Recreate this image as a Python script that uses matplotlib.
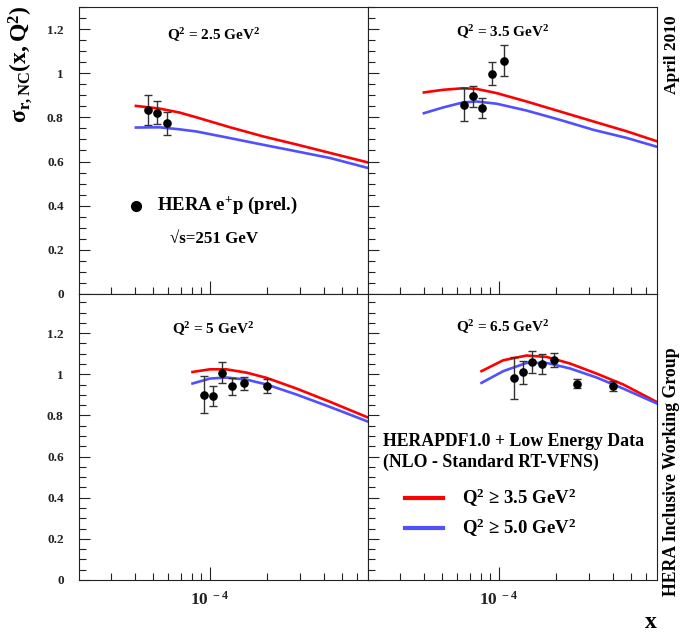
import numpy as np
import matplotlib
matplotlib.use('Agg')
import matplotlib.pyplot as plt
from matplotlib.ticker import LogLocator, FixedLocator, MultipleLocator, FuncFormatter, NullFormatter

plt.rcParams['font.family'] = ['Liberation Serif', 'DejaVu Serif']
plt.rcParams['font.weight'] = 'bold'
plt.rcParams['mathtext.fontset'] = 'custom'
plt.rcParams['mathtext.rm'] = 'Liberation Serif:bold'
plt.rcParams['mathtext.it'] = 'Liberation Serif:bold'
plt.rcParams['mathtext.bf'] = 'Liberation Serif:bold'
plt.rcParams['mathtext.default'] = 'rm'

# HERA e+p data per Q2 bin: x, sigma_r, error
q2_labels = ['2.5', '3.5', '5', '6.5']

x_25 = [4.72e-5, 5.28e-5, 5.90e-5]
s_25 = [0.833, 0.822, 0.774]
e_25 = [0.067, 0.050, 0.052]

x_35 = [6.53e-5, 7.26e-5, 8.09e-5, 9.22e-5, 1.06e-4]
s_35 = [0.857, 0.895, 0.842, 0.998, 1.057]
e_35 = [0.075, 0.048, 0.044, 0.053, 0.071]

x_5 = [9.29e-5, 1.04e-4, 1.16e-4, 1.31e-4, 1.52e-4, 2.01e-4]
s_5 = [0.901, 0.895, 1.008, 0.942, 0.956, 0.943]
e_5 = [0.090, 0.049, 0.051, 0.042, 0.032, 0.033]

x_65 = [1.205e-4, 1.345e-4, 1.496e-4, 1.69e-4, 1.96e-4, 2.58e-4, 4.0e-4]
s_65 = [0.982, 1.010, 1.060, 1.050, 1.068, 0.955, 0.943]
e_65 = [0.104, 0.056, 0.053, 0.050, 0.034, 0.021, 0.024]

# HERAPDF1.0 predictions: Q2 cut >= 3.5 (red) and >= 5.0 (blue)
xt_25 = [4.06e-5, 5.4e-5, 6.9e-5, 8.5e-5, 1.28e-4, 1.91e-4, 2.88e-4, 4.32e-4, 6.85e-4]
red_25 = [0.852, 0.840, 0.822, 0.800, 0.755, 0.714, 0.677, 0.639, 0.596]
blue_25 = [0.754, 0.755, 0.746, 0.736, 0.706, 0.676, 0.646, 0.616, 0.571]

xt_35 = [4.01e-5, 5.07e-5, 6.47e-5, 7.62e-5, 9.72e-5, 1.40e-4, 2.10e-4, 3.15e-4, 4.74e-4, 6.85e-4]
red_35 = [0.913, 0.925, 0.932, 0.929, 0.910, 0.872, 0.827, 0.782, 0.737, 0.692]
blue_35 = [0.819, 0.845, 0.868, 0.872, 0.862, 0.831, 0.789, 0.744, 0.707, 0.667]

xt_5 = [8.09e-5, 1.0e-4, 1.22e-4, 1.56e-4, 2.0e-4, 2.88e-4, 4.32e-4, 6.85e-4]
red_5 = [1.011, 1.024, 1.024, 1.008, 0.982, 0.930, 0.866, 0.790]
blue_5 = [0.955, 0.979, 0.984, 0.974, 0.950, 0.901, 0.841, 0.770]

xt_65 = [8.09e-5, 1.054e-4, 1.40e-4, 1.79e-4, 2.38e-4, 3.29e-4, 4.55e-4, 6.85e-4]
red_65 = [1.015, 1.068, 1.091, 1.084, 1.052, 1.003, 0.950, 0.865]
blue_65 = [0.958, 1.015, 1.055, 1.055, 1.028, 0.984, 0.930, 0.858]

panels = [
    (x_25, s_25, e_25, xt_25, red_25, blue_25),
    (x_35, s_35, e_35, xt_35, red_35, blue_35),
    (x_5, s_5, e_5, xt_5, red_5, blue_5),
    (x_65, s_65, e_65, xt_65, red_65, blue_65),
]

RED = '#ff0000'
BLUE = '#5050ff'

fig = plt.figure(figsize=(6.81, 6.42), dpi=100)
W, H = 681, 642
x0, xm, x1 = 79 / W, 368 / W, 657 / W
y_top, y_mid, y_bot = 1 - 7 / H, 1 - 294 / H, 1 - 580 / H
rects = [
    [x0, y_mid, xm - x0, y_top - y_mid],
    [xm, y_mid, x1 - xm, y_top - y_mid],
    [x0, y_bot, xm - x0, y_mid - y_bot],
    [xm, y_bot, x1 - xm, y_mid - y_bot],
]
ylims = [1.3, 1.3, 1.39, 1.39]
label_y = [0.902, 0.913, 0.878, 0.885]

axes = []
for i, (r, (xd, sd, ed, xt, rv, bv)) in enumerate(zip(rects, panels)):
    ax = fig.add_axes(r)
    axes.append(ax)
    ax.plot(xt, rv, color=RED, lw=1.9, zorder=2)
    ax.plot(xt, bv, color=BLUE, lw=1.9, zorder=2)
    ax.errorbar(xd, sd, yerr=ed, fmt='o', color='black', ms=5.2, ecolor='#333333',
                elinewidth=1.0, capsize=3.2, capthick=1.0, zorder=3)
    ax.set_xscale('log')
    ax.set_xlim(2.03e-5, 6.86e-4)
    ax.set_ylim(0, ylims[i])
    ax.xaxis.set_major_locator(FixedLocator([1e-4]))
    ax.xaxis.set_minor_locator(LogLocator(base=10, subs=np.arange(2, 10), numticks=20))
    ax.xaxis.set_minor_formatter(NullFormatter())
    ax.yaxis.set_major_locator(MultipleLocator(0.2))
    ax.yaxis.set_minor_locator(MultipleLocator(0.05))
    ax.yaxis.set_major_formatter(FuncFormatter(lambda v, p: '%g' % round(v, 2)))
    ax.tick_params(which='both', direction='in', top=False, right=False, width=0.8,
                   labelsize=9.5, colors='#222222')
    ax.tick_params(axis='y', which='major', length=8, pad=11)
    ax.tick_params(axis='y', which='minor', length=5)
    ax.tick_params(axis='x', which='major', length=9.5, pad=8, labelsize=12.5)
    ax.tick_params(axis='x', which='minor', length=5)
    if i < 2:
        ax.tick_params(axis='x', labelbottom=False)
    else:
        ax.xaxis.set_major_formatter(FuncFormatter(lambda v, p: r'$10^{\ -4}$'))
    if i % 2 == 1:
        ax.tick_params(axis='y', labelleft=False)
    for sp in ax.spines.values():
        sp.set_linewidth(0.8)
        sp.set_color('#222222')
    ax.text(0.465, label_y[i], r'$\mathrm{Q^{2}}$ = %s GeV$^{2}$' % q2_labels[i],
            transform=ax.transAxes, ha='center', va='center', fontsize=11)

# data legend in the first panel
ax = axes[0]
ax.plot([0.197], [0.307], 'o', color='black', ms=7, transform=ax.transAxes, clip_on=False)
ax.text(0.27, 0.307, 'HERA e$^{+}$p (prel.)', transform=ax.transAxes,
        ha='left', va='center', fontsize=13.5)
ax.text(0.315, 0.192, '\u221as=251 GeV', transform=ax.transAxes,
        ha='left', va='center', fontsize=12.2)

# model legend in the last panel
ax = axes[3]
ax.text(0.052, 0.484, 'HERAPDF1.0 + Low Energy Data', transform=ax.transAxes,
        ha='left', va='center', fontsize=12.8)
ax.text(0.052, 0.413, '(NLO - Standard RT-VFNS)', transform=ax.transAxes,
        ha='left', va='center', fontsize=12.8)
ax.plot([0.128, 0.26], [0.287, 0.287], color=RED, lw=3, transform=ax.transAxes)
ax.plot([0.128, 0.26], [0.182, 0.182], color=BLUE, lw=3, transform=ax.transAxes)
ax.text(0.325, 0.287, 'Q$^{2}$ \u2265 3.5 GeV$^{2}$', transform=ax.transAxes,
        ha='left', va='center', fontsize=13.5)
ax.text(0.325, 0.182, 'Q$^{2}$ \u2265 5.0 GeV$^{2}$', transform=ax.transAxes,
        ha='left', va='center', fontsize=13.5)

fig.text(20 / W, 1 - 64 / H, r'$\sigma_{\mathrm{r,NC}}\mathrm{(x,Q^{2})}$', rotation=90,
         ha='center', va='center', fontsize=17)
fig.text(651 / W, 1 - 622 / H, 'x', ha='center', va='center', fontsize=17)
fig.text(672 / W, 1 - 55 / H, 'April 2010', rotation=90, ha='center', va='center', fontsize=12.5)
fig.text(672 / W, 1 - 472 / H, 'HERA Inclusive Working Group', rotation=90,
         ha='center', va='center', fontsize=12.8)

fig.savefig('out.png', dpi=100)
